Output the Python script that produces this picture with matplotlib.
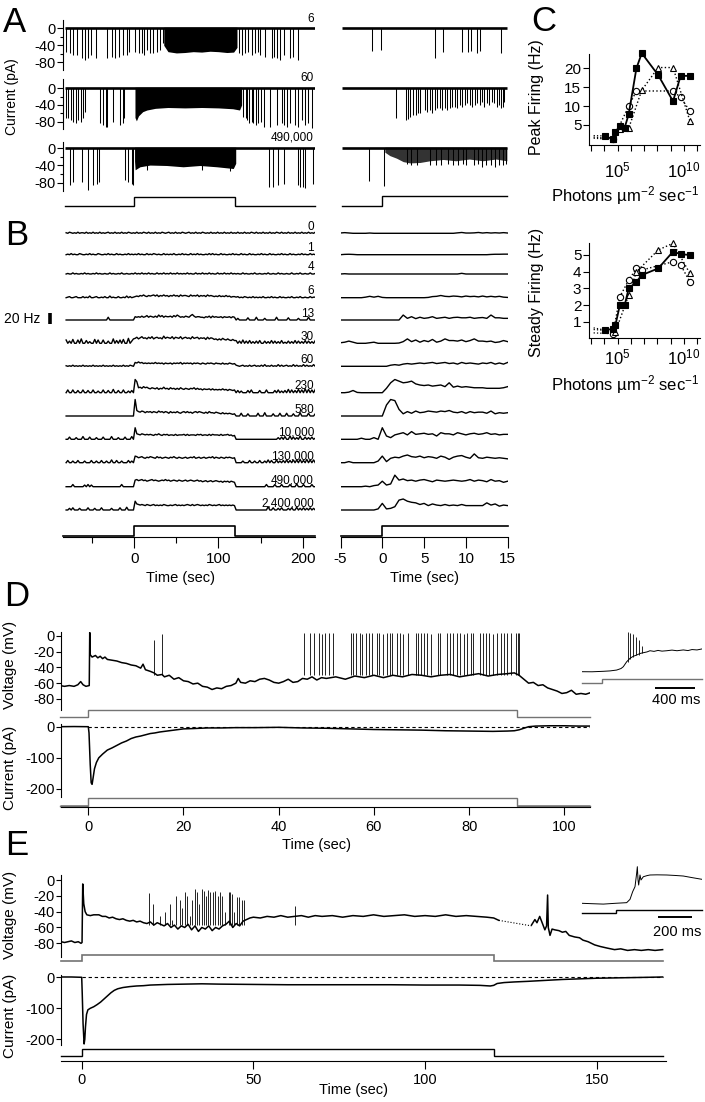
import numpy as np
import matplotlib
matplotlib.use('Agg')
import matplotlib.pyplot as plt
from matplotlib.ticker import NullLocator

plt.rcParams['font.family'] = ['Liberation Sans', 'DejaVu Sans']
plt.rcParams['mathtext.fontset'] = 'custom'
plt.rcParams['mathtext.rm'] = 'Liberation Sans'
plt.rcParams['mathtext.it'] = 'Liberation Sans:italic'
plt.rcParams['mathtext.bf'] = 'Liberation Sans:bold'
plt.rcParams['axes.linewidth'] = 0.8
plt.rcParams['axes.unicode_minus'] = False
for k in ['xtick.major.width', 'ytick.major.width', 'xtick.minor.width', 'ytick.minor.width']:
    plt.rcParams[k] = 0.8

# ======================= DATA =======================
LIGHT_ON, LIGHT_OFF = 0.0, 120.0
A_T_LEFT = (-82.8, 214.6)
A_T_RIGHT = (-4.85, 14.9)
A_LABELS = ['6', '60', '490,000']

# --- A, row "6"
A1_spk_t = [-81.2, -76.4, -73.2, -67.7, -62.5, -58.6, -54.6, -51.9, -45.5, -32.9, -26.5, -23.0, -17.8,
            -13.9, -8.3, -5.9, 0.5, 5.9, 8.7, 11.9, 14.6, 18.6, 21.8, 26.5, 30.5, 34.4,
            124.7, 127.5, 131.4, 135.4, 139.4, 143.3, 147.3, 149.2, 155.2, 163.1, 165.9, 169.8, 173.0,
            177.8, 184.9, 188.8, 194.8]
A1_spk_d = [-55, -59, -63, -63, -71, -75, -71, -63, -71, -71, -67, -71, -67, -63, -63, -55,
            -55, -59, -59, -63, -51, -59, -59, -55, -51, -35,
            -59, -63, -59, -55, -63, -59, -55, -63, -67, -71, -67, -71, -75, -63, -71, -67, -75]
A1_dense_t = [35, 40, 50, 60, 70, 80, 90, 100, 110, 118, 122]
A1_dense_lo = [-40, -55, -58, -57, -55, -56, -54, -55, -57, -56, -45]
# --- A, row "60"
A2_spk_t = [-81.2, -78.4, -75.2, -72.4, -69.3, -66.5, -63.7, -60.6, -58.6, -40.8, -37.6, -33.7, -32.1,
            -25.0, -17.0, -13.9, -12.3,
            129.5, 132.6, 134.2, 136.6, 139.4, 141.3, 144.5, 147.3, 150.0, 154.0, 161.1, 169.0, 175.0,
            177.8, 180.9, 184.9, 190.8, 194.8, 198.7, 202.7, 206.7, 210.6]
A2_spk_d = [-72, -72, -76, -80, -84, -76, -80, -72, -56, -84, -88, -92, -92, -80, -88, -84, -72,
            -68, -72, -76, -84, -80, -84, -88, -84, -80, -92, -92, -88, -84, -88, -92, -84, -88, -92,
            -76, -88, -84, -96]
A2_dense_t = [0.8, 2.5, 5, 10, 15, 25, 40, 60, 80, 100, 117, 125, 127.5]
A2_dense_lo = [-70, -78, -66, -56, -52, -48, -46, -47, -46, -47, -49, -52, -40]
# --- A, row "490,000"
A3_spk_t = [-76.4, -73.2, -62.5, -54.6, -48.7, -44.7, -41.6, -11.1, -7.1, -3.2, -1.2,
            14.6, 80.0, 113.6,
            160.3, 165.1, 171.0, 177.8, 194.0, 196.8, 200.7, 202.7, 212.6]
A3_spk_d = [-85, -78, -78, -97, -85, -82, -78, -74, -78, -82, -85,
            -50, -50, -52,
            -89, -89, -85, -82, -85, -89, -89, -93, -82]
A3_dense_t = [0.3, 1, 6.7, 18.6, 38.4, 58, 78, 98, 117.6, 120.5]
A3_dense_lo = [-30, -50, -43, -39, -40, -43, -40, -43, -47, -35]
# --- A, right (zoomed) rows
AR1_spk_t = [-1.19, -0.2, 6.27, 7.26, 9.56, 10.24, 10.56, 11.35, 11.71, 14.2]
AR1_spk_d = [-54, -52, -70, -56, -56, -56, -54, -58, -54, -58]
AR2_spk_t = [1.63, 2.82, 3.10, 3.37, 3.69, 4.01, 4.29, 4.56, 5.08, 5.36, 5.67, 5.99, 6.27, 6.55, 6.87,
             7.18, 7.46, 7.74, 8.06, 8.37, 8.65, 8.93, 9.25, 9.56, 9.84, 10.12, 10.44, 10.75, 11.03,
             11.35, 11.63, 11.94, 12.22, 12.50, 12.82, 13.13, 13.41, 13.69, 14.01, 14.21, 14.40, 14.60]
AR2_spk_d = [-72, -76, -74, -68, -64, -64, -60, -60, -52, -56, -52, -60, -52, -48, -48, -52, -48, -52,
             -48, -44, -44, -48, -40, -44, -40, -36, -40, -44, -40, -36, -40, -32, -44, -36, -40, -32,
             -36, -44, -40, -48, -44, -32]
AR3_spk_t = [-1.55, 0.2, 2.98, 3.49, 4.17, 5.67, 6.39, 7.06, 7.86, 8.45, 9.05, 9.64, 10.04, 10.91,
             11.43, 11.94, 12.42, 13.02, 13.53, 14.01, 14.40, 14.80]
AR3_spk_d = [-75, -87, -36, -39, -38, -39, -40, -39, -36, -38, -40, -36, -40, -39, -36, -44, -39, -40,
             -44, -39, -40, -36]
AR3_dense_t = [0.3, 0.9, 1.7, 2.5, 3.3, 4.5, 5.7, 7.3, 8.8, 10.4, 12.0, 13.6, 14.9]
AR3_dense_lo = [-9, -17, -23, -31, -34, -33, -29, -26, -29, -25, -29, -25, -29]

# --- B: firing rate (Hz), base-36 digits per 2-s bin starting at -82 s (pre | light | post)
B_LABELS = ['0', '1', '4', '6', '13', '30', '60', '230', '580', '10,000', '130,000', '490,000', '2,400,000']
B_BIN0, B_BIN = -82.0, 2.0
B_LEFT = [
    ("1021010201 1020102010 2010120102 0102010210 1",
     "0201021020 1020102101 2010201021 0120102010 2101020102 0102010201",
     "0201020102 1020102010 2010210201 0201020102 01020102"),
    ("0102010021 0010201002 1001020100 2010010201 0",
     "1020100201 0210100201 0102001020 1002010201 0010202010 0201001020",
     "1002010020 1001020100 2010010201 0020100102 01002010"),
    ("0100201001 0201001020 1001002010 0102001001 0",
     "2010201020 1002010201 0201020101 0201002010 2010201002 0102010201",
     "0100201001 0200100102 0010020100 1002001020 01002001"),
    ("0120012000 2010300120 0102003010 0200103020 1",
     "2324353243 4535243534 2435342534 4325343524 3425343232 4232423122",
     "1201021010 2010102001 0201002010 0102001020 01002011"),
    ("0000000000 0000000000 0000050000 0000000000 0",
     "6565756857 6575968576 6758697565 7658a75665 5465747565 5646556465",
     "0300000400 0050000300 0000500000 0400000300 00050000"),
    ("6040700608 0050300706 0060040080 5060700904 8",
     "9b8ac9a8b9 c8ab9a8d9b a9c8ba9c8a b9a8c9ab8a 9a7b8a9786 8697686575",
     "5040604050 3040500403 0504030502 0403050403 05040305"),
    ("1010201010 2010102010 1020101020 1010201021 0",
     "7686756565 6575656465 5646565746 5656465654 6546565465 5464546545",
     "2101201020 1201020301 0201030201 2010302010 30201030"),
    ("0500500400 5004005003 0050040060 0400500304 0",
     "ok9a8b9a87 9879687a78 6978686976 8768796867 5766757565 6575646545",
     "0403000405 0000400050 0004050304 0605040605 07060506"),
    ("0000000000 0000000000 0000000000 0000000000 0",
     "ua87986878 6876978687 5867686578 6867578687 6575866576 5464545434",
     "0005000400 0005000600 0040005000 5000400060 00050004"),
    ("0040003000 5000400030 0040000500 0300040005 0",
     "la98a98989 8798a87989 7887978889 7978887989 7887979888 7978897867",
     "0000000000 0000000000 0000030405 0060403060 04030402"),
    ("0400300400 0300040030 0400300500 4003000403 0",
     "cb9ab98a9b a98b9a89a9 8a9b98a989 a89a9b89a8 9a89a9b8a9 8a98a9a989",
     "0000300040 0300400305 0400503040 5040505060 40605050"),
    ("0000400000 0304030000 0000000000 0004000000 0",
     "cdbcdbcabc dbcbabcbdb cabcbacbab cabcbabcab 9ab9ab9aba 9a8a9a8a98",
     "0000000000 0000000040 0004000400 0040005000 40000400"),
    ("0030400030 0004000300 0400000300 0040005000 0",
     "gba9a98a98 9a89898a98 8989a89898 9a98a89a98 9898a98989 a898989898",
     "0000000000 0000000006 0040030400 0304005030 40304030"),
]
# B right: 0.5-s bins from -5 to 15 s (Hz)
B_R_T0, B_R_DT = -5.0, 0.5
B_RIGHT = [
    [0.6, 1.2, 0.6, 0, 0, 0, 0, 0.5, 0, 0, 0, 0, 0, 0, 0, 0, 0, 0, 0, 0, 0, 0, 0, 0, 0, 0, 0, 0, 0.8, 1.5,
     0.5, 0.5, 0.8, 1.5, 0.5, 1.2, 0.5, 1.0, 0.5, 1.2, 0.5],
    [0, 0.6, 0.8, 0.5, 0, 0, 0, 0, 0, 0, 0, 0, 0, 0, 0, 0, 0, 0, 0, 0, 0, 0, 0, 0, 0, 0, 0, 0, 0, 0, 0, 0,
     0, 0, 0, 0, 0.5, 0.8, 0.8, 1.0, 1.0],
    [0, 0.5, 0, 0, 0, 0, 0, 0, 0, 0, 0, 0, 0, 0, 0, 0, 0, 0, 0, 0, 0, 0, 0, 0, 0, 0, 0, 0, 0, 1.2, 0, 0,
     0, 0, 0, 0, 0, 0, 0, 0, 0],
    [0, 0, 0, 0, 0, 0, 1, 2.5, 1, 2.5, 0.5, 0, 0, 0, 0, 0, 0, 0, 0, 0, 0, 0.5, 2, 2.5, 4, 2.5, 2, 3, 2.5,
     1.5, 3, 2, 2.5, 1.5, 3, 1.5, 2.5, 1.5, 2.5, 1, 0.5],
    [0, 0, 0, 0, 0, 0, 0, 0, 0, 0, 0, 0, 0, 0, 0, 9, 3, 6, 2.5, 5, 3, 4, 6, 3, 4, 5, 3, 4.5, 5, 4, 4, 5,
     3, 4, 4.5, 3, 9, 4, 4, 3, 3],
    [1, 2, 4, 2, 0, 0, 0, 1, 2, 0, 0, 0, 0, 0, 0.5, 3, 8, 3, 6, 2, 5, 3, 7, 2, 4, 8, 5, 5, 4, 6, 3, 5, 8,
     4, 4, 3, 4, 1.5, 2.5, 5, 3],
    [0, 0, 0, 0, 0, 0, 0, 0, 0, 0, 0, 0, 2, 3, 2, 4, 5, 4, 5, 6, 5, 6, 7, 5, 6, 7, 5, 6, 4, 7, 5, 6, 5,
     4, 6, 5, 7, 4, 6, 4, 7],
    [0, 0, 1, 4, 0.5, 0, 0, 0, 0, 0, 0, 8, 18, 24, 21, 18, 19, 21, 16, 14, 13, 14, 12, 13, 14, 11, 18, 10,
     12, 10, 11, 10, 9, 9, 9, 8, 8, 8, 8, 9, 11],
    [0, 0, 0, 0, 0, 0, 0, 0, 0, 0, 0, 20, 30, 28, 12, 4, 8, 5, 9, 6, 7, 9, 8, 7, 9, 8, 10, 7, 6, 8, 5, 8,
     6, 7, 7, 5, 9, 4, 6, 5, 6],
    [0, 0, 0, 0, 0, 2, 0, 0, 3, 0, 21, 6, 3, 8, 10, 12, 8, 14, 9, 10, 11, 9, 10, 6, 12, 10, 10, 8, 12, 10,
     8, 10, 11, 9, 10, 12, 9, 10, 8, 9, 9],
    [0, 0, 2, 0, 0, 0, 0, 0, 0, 3, 12, 2, 8, 10, 9, 12, 14, 11, 10, 12, 9, 11, 10, 8, 12, 10, 6, 10, 12,
     13, 10, 8, 16, 9, 8, 10, 9, 8, 9, 8, 7],
    [0, 0, 0, 0, 0, 0, 1, 0, 2, 3, 10, 3, 5, 21, 12, 14, 11, 12, 10, 12, 13, 11, 9, 12, 11, 10, 11, 12,
     11, 10, 11, 13, 10, 12, 11, 9, 13, 10, 11, 8, 10],
    [0, 0, 0, 0, 0, 0, 0, 0, 0, 2, 12, 2, 3, 6, 18, 20, 16, 14, 13, 10, 12, 8, 11, 9, 8, 10, 8, 9, 8, 10,
     8, 8, 8, 8, 8, 13, 9, 11, 7, 9, 8],
]
B_SCALE_HZ = 20

# --- C: response vs. intensity
C_UNIT_TO_PHOTONS = 1.15e4
C_DARK_PHOTONS = 1.6e3
C_INT_SQ = [1, 4, 6, 13, 30, 60, 230, 580, 1e4, 1.3e5, 4.9e5, 2.4e6]
C_PEAK_SQ = [2.1, 1.2, 3.2, 4.7, 4.3, 7.8, 20.0, 24.0, 18.2, 11.3, 18.0, 18.0]
C_INT_CI_PEAK = [4, 60, 230, 1.3e5, 4.9e5, 2.4e6]
C_PEAK_CI = [1.2, 10.0, 14.0, 14.0, 12.3, 8.7]
C_INT_TR_PEAK = [4, 13, 60, 580, 1e4, 1.3e5, 2.4e6]
C_PEAK_TR = [1.4, 4.0, 4.1, 14.2, 20.2, 20.2, 6.1]
C_PEAK_DARK = [2.2, 1.5, 1.8]
C_STEADY_SQ = [0.5, 0.6, 0.8, 2.0, 2.0, 3.0, 3.4, 3.8, 4.2, 5.2, 5.05, 5.0]
C_INT_CI_ST = [4, 13, 60, 230, 580, 1.3e5, 4.9e5, 2.4e6]
C_STEADY_CI = [0.3, 2.5, 3.5, 4.2, 4.1, 4.6, 4.4, 3.4]
C_INT_TR_ST = [6, 60, 230, 1e4, 1.3e5, 2.4e6]
C_STEADY_TR = [0.4, 2.6, 4.0, 5.3, 5.7, 3.9]
C_STEADY_DARK = [0.55, 0.35, 0.65]

# --- D: whole-cell recording, 90 s light step
D_LIGHT = (0.0, 90.0)
D_T_RANGE = (-6.0, 105.5)
D_V_t = [-6, -5, -4, -3, -2.2, -1.6, -1.1, -0.5, 0.2, 0.3, 0.4, 0.8, 1.5, 2, 2.5, 3, 3.5, 4, 5, 6, 7, 8,
         9, 10, 11, 11.5, 12, 13, 13.8, 14.5, 15.5, 16, 17, 18, 19, 20, 21, 22, 23, 24, 25, 26, 27, 28,
         29, 30, 31, 31.5, 32, 33, 34, 35, 36, 37, 38, 39, 40, 41, 42, 43, 44, 45, 46, 47, 48, 49, 50,
         52, 54, 56, 58, 60, 62, 64, 66, 68, 70, 72, 74, 76, 78, 80, 82, 84, 86, 88, 89.5, 90.5, 91.5,
         92.5, 93.5, 94.5, 95.5, 96.5, 97.5, 98.5, 99.5, 100.5, 101.5, 102.5, 103.5, 104.5, 105.5]
D_V_v = [-63, -64, -63, -64, -62, -58, -62, -64, -63, 4, -24, -27, -25, -28, -26, -29, -27, -30, -31,
         -32, -34, -35, -37, -38, -41, -36, -43, -45, -47, -50, -49, -52, -50, -55, -53, -57, -58, -61,
         -60, -64, -65, -68, -66, -67, -64, -63, -60, -54, -59, -60, -57, -58, -55, -54, -56, -59, -60,
         -58, -55, -59, -58, -54, -55, -52, -56, -53, -54, -52, -55, -51, -53, -50, -53, -50, -52, -49,
         -50, -52, -50, -49, -52, -50, -48, -51, -49, -48, -47, -50, -55, -60, -59, -63, -62, -66, -68,
         -70, -73, -72, -69, -74, -73, -74, -72]
D_spk_t = [13.8, 15.5,
           45.3, 46.6, 47.5, 48.5, 49.0, 49.8, 50.6, 51.5,
           55.1, 55.7, 56.2,
           57.1, 57.6, 58.3, 59.0, 59.7, 60.6, 61.1, 62.0, 62.7, 63.4,
           63.9, 64.8, 65.5, 66.2, 67.2, 68.8, 69.3, 69.9, 70.5, 71.1,
           72.1, 73.5, 73.9, 75.3, 76.0, 76.7, 77.4, 78.1, 78.9, 79.6,
           80.3, 80.9, 82.3, 82.9, 83.5, 84.2, 85.1, 85.9, 86.8, 87.3,
           87.9, 88.7, 89.8, 90.2, 90.5]
D_spk_p = [-5, 2,
           3, 3, 4, 3, 2, 4, 3, 3,
           3, 4, 3,
           3, 2, 3, 4, 3, 3, 3, 2, 3, 4,
           3, 3, 3, 2, 3, 3, 4, 3, 3, 3,
           2, 3, 3, 4, 3, 3, 3, 3, 2, 3,
           3, 4, 3, 3, 3, 3, 2, 3, 3, 3,
           4, 3, 3, 3, 3]
D_SPIKE_FOOT = -50
D_I_t = [-6, -3, 0, 0.15, 0.4, 0.6, 0.8, 1.0, 1.3, 1.7, 2.2, 3, 4, 5, 6, 7, 8, 9, 10, 11, 12, 13, 14, 15,
         16, 17, 18, 19, 20, 22, 25, 28, 31, 35, 40, 45, 50, 55, 60, 65, 70, 75, 80, 85, 88, 89.5, 90.5,
         91.5, 92.5, 94, 97, 100, 103, 105.5]
D_I_v = [0, 0.5, 0, -20, -120, -180, -185, -165, -135, -115, -100, -88, -75, -68, -60, -52, -46, -38,
         -33, -30, -26, -22, -20, -17, -15, -13, -11, -9, -7, -6, -4, -4, -3, -3, -2, -4, -5, -7, -9,
         -10, -11, -13, -14, -15, -14, -13, -10, -5, 0, 2, 3, 3, 2, 2]
D_INSET_t = [0, 100, 213, 280, 347, 390, 413, 447, 480, 513, 547, 580, 613, 650, 680, 720, 760, 800, 847,
             900, 950, 1013, 1060, 1100, 1150, 1197]
D_INSET_v = [-45.5, -45.6, -45, -44.5, -43.4, -41.5, -39.2, -32.9, -28.6, -26, -24.4, -22.5, -21.5,
             -20.5, -19, -19.8, -18.6, -19.5, -19, -18.2, -19, -18, -18.8, -17.5, -18, -16.8]
D_INSET_spk_t = [457, 480, 507, 537, 567, 600]
D_INSET_spk_p = [5, 4, 2, -2, -6, -13]
D_INSET_spk_f = [-33, -29, -27, -25, -24, -22]
D_INSET_STEP = 203
D_INSET_END = 1197
D_BAR_MS = 400

# --- E: whole-cell recording, 120 s light step
E_LIGHT = (0.0, 120.0)
E_T_RANGE = (-6.0, 169.2)
E_V_t = [-6, -5, -4, -3, -2, -1, -0.2, 0.1, 0.3, 0.6, 1.0, 1.5, 2.5, 3.5, 5, 6, 7, 8, 9, 10, 11, 12, 13,
         14, 15, 16, 17, 18, 19, 20, 21, 22, 23, 24, 25, 26, 27, 28, 29, 30, 31, 32, 33, 34, 35, 36, 37,
         38, 39, 40, 41, 42, 43, 44, 45, 46, 47, 48, 49, 50, 52, 54, 56, 58, 60, 62, 64, 66, 68, 70, 73,
         76, 79, 82, 85, 88, 91, 94, 97, 100, 103, 106, 109, 112, 115, 118, 120, 121.5]
E_V_v = [-78, -79, -78, -77, -79, -78, -80, -79, -5, -30, -40, -44, -45, -44, -44, -46, -46, -48, -47,
         -49, -50, -49, -51, -52, -51, -53, -52, -54, -55, -53, -57, -54, -56, -58, -55, -60, -57, -62,
         -58, -60, -56, -63, -58, -65, -60, -62, -58, -64, -60, -62, -58, -56, -52, -60, -55, -58, -52,
         -50, -48, -47, -48, -46, -47, -45, -47, -46, -45, -47, -45, -46, -45, -47, -45, -46, -44, -46,
         -45, -44, -46, -45, -46, -44, -46, -45, -46, -47, -48, -51]
E_GAP_t = [121.5, 131.0]
E_GAP_v = [-51, -58]
E_V2_t = [131, 132, 132.6, 133.4, 134.2, 134.9, 135.4, 135.7, 135.9, 136.4, 137, 137.8, 139, 140, 141,
          142, 143.6, 145, 146, 147.5, 149.4, 151, 153, 155.2, 157, 159, 161, 163, 165, 167, 169.2]
E_V2_v = [-57, -50, -54, -46, -55, -63, -58, -19, -60, -70, -62, -63, -64, -66, -65, -70, -72, -73, -76,
          -78, -82, -84, -86, -88, -87, -89, -88, -89, -88, -89, -88]
E_spk_t = [19.5, 20.9, 22.7, 24.4, 25.6, 26.3, 27.6, 28.5, 29.3, 30.0, 30.6, 31.4, 32.2, 32.9, 33.5,
           34.3, 34.9, 35.5, 36.2, 36.8, 37.4, 38.2, 38.9, 39.6, 40.3, 40.9, 41.6, 42.8, 43.3, 43.8,
           44.5, 45.2, 45.9, 46.7, 47.4, 62.0]
E_spk_p = [-17, -30, -45, -40, -30, -50, -20, -25, -35, -15, -20, -45, -25, -12, -15, -30, -12, -14,
           -20, -13, -15, -15, -14, -20, -15, -20, -40, -15, -15, -18, -40, -22, -22, -25, -25, -33]
E_SPIKE_FOOT = -57
E_I_t = [-6, -3, 0, 0.15, 0.4, 0.7, 0.9, 1.1, 1.4, 1.8, 2.5, 3.5, 4.5, 5.5, 6.5, 7.5, 8.5, 9.5, 10.5, 12,
         14, 16, 18, 20, 25, 30, 35, 40, 50, 60, 70, 80, 90, 100, 110, 116, 119, 120, 121, 123, 126,
         130, 135, 140, 145, 150, 155, 160, 165, 169.2]
E_I_v = [1, 1, 0, -50, -150, -215, -200, -160, -120, -105, -100, -95, -88, -80, -70, -60, -50, -42, -37,
         -33, -30, -28, -27, -25, -23, -22, -21, -22, -23, -24, -24, -24, -24, -25, -25, -26, -28, -26,
         -20, -17, -15, -13, -10, -7, -5, -3, -2, -1, 0, 1]
E_INSET_t = [0, 60, 128, 200, 268, 288, 304, 318, 328, 332, 336, 340, 348, 354, 368, 390, 408, 450, 508,
             560, 608, 660, 718]
E_INSET_v = [-80, -80.5, -81, -80, -79.2, -75, -65.3, -59, -42, -33.7, -50, -56.9, -44.2, -50.5, -46.4,
             -45, -44.2, -44, -44.2, -44.8, -45.5, -47.5, -49.6]
E_INSET_STEP = 202
E_INSET_END = 718
E_BAR_MS = 200

# ======================= LAYOUT HELPERS =======================
W, H = 705, 1102
fig = plt.figure(figsize=(W / 100, H / 100), dpi=100)


def lin(p, pa, va, pb, vb):
    return va + (p - pa) * (vb - va) / (pb - pa)


def px_axes(l, t, r, b, xmap, ymap, xlog=False):
    ax = fig.add_axes([l / W, 1 - b / H, (r - l) / W, (b - t) / H])
    x0, x1 = lin(l, *xmap), lin(r, *xmap)
    if xlog:
        ax.set_xscale('log')
        ax.set_xlim(10 ** x0, 10 ** x1)
    else:
        ax.set_xlim(x0, x1)
    ax.set_ylim(lin(b, *ymap), lin(t, *ymap))
    ax.patch.set_visible(False)
    return ax


def bare(ax):
    for s in ax.spines.values():
        s.set_visible(False)
    ax.set_xticks([])
    ax.set_yticks([])


def left_only(ax, ticks, fs=10.5, minor=None, length=4.0, pad=1.5):
    for k in ('top', 'right', 'bottom'):
        ax.spines[k].set_visible(False)
    ax.set_xticks([])
    ax.set_yticks(ticks)
    ax.set_yticklabels([str(v) for v in ticks])
    ax.tick_params(axis='y', direction='out', length=length, pad=pad, labelsize=fs)
    if minor:
        ax.set_yticks(minor, minor=True)
        ax.tick_params(axis='y', which='minor', direction='out', length=2.5)


def set_xt(ax, ticks):
    ax.set_xticks(ticks)
    ax.set_xticklabels([str(v) for v in ticks])


def ftext(x, y, s, **kw):
    return fig.text(x / W, 1 - y / H, s, **kw)


def stim_xy(t0, t1, on, off, lo=0.0, hi=1.0):
    xs, ys = [t0, on, on], [lo, lo, hi]
    if off < t1:
        xs += [off, off, t1]
        ys += [hi, lo, lo]
    else:
        xs += [t1]
        ys += [hi]
    return xs, ys


def stim(ax, t0, t1, on, off, color='k', lw=0.9, low_lw=None):
    xs, ys = stim_xy(t0, t1, on, off)
    ax.plot(xs, ys, color=color, lw=lw, solid_joinstyle='miter', clip_on=False)
    if low_lw:
        ax.plot([t0, on], [0, 0], color=color, lw=low_lw, solid_capstyle='butt', clip_on=False)
        if off < t1:
            ax.plot([off, t1], [0, 0], color=color, lw=low_lw, solid_capstyle='butt', clip_on=False)


def dec(s):
    return np.array([int(c, 36) for c in s.replace(' ', '')], float)


# ======================= PANEL A =======================
XA_L = (134.3, 0.0, 235.3, 120.0)
XA_R = (382.3, 0.0, 507.7, 15.0)
A_ROWS = [((20, 70), (28.3, 0, 62.3, -80)),
          ((79, 129), (88.3, 0, 121.7, -80)),
          ((142, 191), (148.3, 0, 182.7, -80))]
A_LEFT_DATA = [(A1_spk_t, A1_spk_d, A1_dense_t, A1_dense_lo),
               (A2_spk_t, A2_spk_d, A2_dense_t, A2_dense_lo),
               (A3_spk_t, A3_spk_d, A3_dense_t, A3_dense_lo)]
A_RIGHT_DATA = [(AR1_spk_t, AR1_spk_d, None, None),
                (AR2_spk_t, AR2_spk_d, None, None),
                (AR3_spk_t, AR3_spk_d, AR3_dense_t, AR3_dense_lo)]
A_LABEL_Y = [19, 78, 137]


def draw_current_row(ax, trange, st, sd, dt, dlo, fill_color='k'):
    ax.plot(list(trange), [0, 0], color='k', lw=1.9, solid_capstyle='butt')
    ax.vlines(st, sd, 0, color='k', lw=0.75)
    if dt is not None:
        ax.fill_between(dt, dlo, 2.5, color=fill_color, lw=0)


for (ytb, ymap), dl, dr, ly, lab in zip(A_ROWS, A_LEFT_DATA, A_RIGHT_DATA, A_LABEL_Y, A_LABELS):
    axl = px_axes(63, ytb[0], 315, ytb[1], XA_L, ymap)
    left_only(axl, [0, -40, -80], fs=10.5, minor=[-20, -60])
    draw_current_row(axl, A_T_LEFT, *dl)
    axr = px_axes(340.5, ytb[0], 507.7, ytb[1], XA_R, ymap)
    bare(axr)
    draw_current_row(axr, A_T_RIGHT, *dr, fill_color='0.2')
    ftext(314, ly, lab, ha='right', va='center', fontsize=8.5)

ax = px_axes(63, 190, 315, 210, XA_L, (206, 0, 196.7, 1))
bare(ax)
stim(ax, A_T_LEFT[0], A_T_LEFT[1], LIGHT_ON, LIGHT_OFF, lw=1.0)
ax = px_axes(340.5, 190, 507.7, 210, XA_R, (206, 0, 196.2, 1))
bare(ax)
stim(ax, A_T_RIGHT[0], A_T_RIGHT[1], LIGHT_ON, LIGHT_OFF, lw=1.0)
ftext(12, 97, 'Current (pA)', rotation=90, ha='center', va='center', fontsize=10)

# ======================= PANEL B =======================
B_ROW_Y = [233.3, 254.7, 274, 297.7, 320, 343.3, 366.3, 392.7, 416, 439.3, 462.7, 486.7, 510]
YB = (537, 0.0, 482, 100.0)   # 0.55 px per Hz
axBL = px_axes(63, 222, 315, 537, XA_L, YB)
axBR = px_axes(340.5, 222, 507.7, 537, XA_R, YB)
for ax in (axBL, axBR):
    for k in ('top', 'right', 'left'):
        ax.spines[k].set_visible(False)
    ax.set_yticks([])
    ax.tick_params(axis='x', direction='out', length=8, pad=3, labelsize=11)
set_xt(axBL, [0, 100, 200])
axBL.set_xticks([-50, 50, 150], minor=True)
axBL.tick_params(axis='x', which='minor', direction='out', length=4)
set_xt(axBR, [-5, 0, 5, 10, 15])
axBR.xaxis.set_minor_locator(NullLocator())

for yrow, rowstr, rrow, lab in zip(B_ROW_Y, B_LEFT, B_RIGHT, B_LABELS):
    off = lin(yrow, *YB)
    v = dec(''.join(rowstr))
    t = B_BIN0 + B_BIN * np.arange(len(v)) + B_BIN / 2
    axBL.plot(t, v + off, color='k', lw=1.0)
    rv = np.array(rrow, float)
    rt = B_R_T0 + B_R_DT * np.arange(len(rv))
    axBR.plot(rt, rv + off, color='k', lw=1.0)
    ftext(314, yrow - 6.5, lab, ha='right', va='center', fontsize=8.5)

# stimulus in B (low level sits on the axis line)
sl, sh = lin(535.6, *YB), lin(526, *YB)
for ax, tr in ((axBL, (lin(63, *XA_L), lin(315, *XA_L))), (axBR, (lin(340.5, *XA_R), lin(507.7, *XA_R)))):
    xs, ys = stim_xy(tr[0], tr[1], LIGHT_ON, LIGHT_OFF, sl, sh)
    ax.plot(xs, ys, color='k', lw=1.2, clip_on=False)
# 20 Hz scale bar
xb = lin(50, *XA_L)
yb0 = lin(324, *YB)
axBL.plot([xb, xb], [yb0, yb0 + B_SCALE_HZ], color='k', lw=2.6, solid_capstyle='butt', clip_on=False)
ftext(4, 319, '20 Hz', ha='left', va='center', fontsize=10)
ftext(180, 578, 'Time (sec)', ha='center', va='center', fontsize=10.5)
ftext(425, 578, 'Time (sec)', ha='center', va='center', fontsize=10.5)

# ======================= PANEL C =======================
XC = (617.5, 5.0, 684.0, 10.0)


def c_axes(t, b, ymap, yticks, xpad):
    ax = px_axes(589, t, 700, b, XC, ymap, xlog=True)
    for k in ('top', 'right'):
        ax.spines[k].set_visible(False)
    ax.set_xticks([10.0 ** k for k in range(3, 12)])
    ax.set_xticklabels(['$10^{%d}$' % k if k in (5, 10) else '' for k in range(3, 12)])
    ax.xaxis.set_minor_locator(NullLocator())
    ax.tick_params(axis='x', direction='out', length=4, pad=xpad, labelsize=12)
    ax.set_yticks(yticks)
    ax.set_yticklabels([str(v) for v in yticks])
    ax.tick_params(axis='y', direction='out', length=4, pad=1.5, labelsize=11)
    return ax


def c_series(ax, ints, vals, dark, marker, ls, lw, mfc, ms):
    x = [i * C_UNIT_TO_PHOTONS for i in ints]
    ax.plot([C_DARK_PHOTONS, x[0]], [dark, vals[0]], color='k', lw=0.9, ls=':')
    ax.plot(x, vals, color='k', lw=lw, ls=ls, marker=marker, ms=ms, mfc=mfc, mec='k', mew=0.8,
            clip_on=False)


axC1 = c_axes(54, 145, (68.3, 20, 125, 5), [5, 10, 15, 20], 7)
c_series(axC1, C_INT_CI_PEAK, C_PEAK_CI, C_PEAK_DARK[1], 'o', ':', 1.0, 'white', 4.5)
c_series(axC1, C_INT_TR_PEAK, C_PEAK_TR, C_PEAK_DARK[2], '^', ':', 1.0, 'white', 4.5)
c_series(axC1, C_INT_SQ, C_PEAK_SQ, C_PEAK_DARK[0], 's', '-', 1.3, 'k', 4.0)
axC2 = c_axes(243, 338, (255, 5, 322, 1), [1, 2, 3, 4, 5], 3)
c_series(axC2, C_INT_CI_ST, C_STEADY_CI, C_STEADY_DARK[1], 'o', ':', 1.0, 'white', 4.5)
c_series(axC2, C_INT_TR_ST, C_STEADY_TR, C_STEADY_DARK[2], '^', ':', 1.0, 'white', 4.5)
c_series(axC2, C_INT_SQ, C_STEADY_SQ, C_STEADY_DARK[0], 's', '-', 1.3, 'k', 4.0)
ftext(537, 97, 'Peak Firing (Hz)', rotation=90, ha='center', va='center', fontsize=11.5)
ftext(537, 292, 'Steady Firing (Hz)', rotation=90, ha='center', va='center', fontsize=11.5)
ftext(551, 196, 'Photons \u00b5m$^{-2}$ sec$^{-1}$', ha='left', va='center', fontsize=12)
ftext(551, 385, 'Photons \u00b5m$^{-2}$ sec$^{-1}$', ha='left', va='center', fontsize=12)

# ======================= PANEL D =======================
XD = (88.3, 0.0, 564.3, 100.0)
YDV = (635.7, 0.0, 699.0, -80.0)
YDI = (726.7, 0.0, 789.0, -200.0)
axDV = px_axes(61, 631.5, 590, 710, XD, YDV)
left_only(axDV, [0, -20, -40, -60, -80], length=3.5, pad=1)
axDV.plot(D_V_t, D_V_v, color='k', lw=1.1)
axDV.vlines(D_spk_t, D_SPIKE_FOOT, D_spk_p, color='k', lw=0.6)
ax = px_axes(61, 705, 590, 720, XD, (716.7, 0, 710, 1))
bare(ax)
stim(ax, D_T_RANGE[0], D_T_RANGE[1], D_LIGHT[0], D_LIGHT[1], color='0.45', lw=1.0)
axDI = px_axes(61, 724, 590, 797, XD, YDI)
left_only(axDI, [0, -100, -200], length=3.5, pad=1)
axDI.plot([D_LIGHT[0], D_T_RANGE[1]], [0, 0], color='k', lw=0.8, ls=(0, (3, 2.5)))
axDI.plot(D_I_t, D_I_v, color='k', lw=1.1)
axDS = px_axes(61, 796, 590, 807.3, XD, (805.7, 0, 798.3, 1))
for k in ('top', 'right', 'left'):
    axDS.spines[k].set_visible(False)
axDS.set_yticks([])
set_xt(axDS, [0, 20, 40, 60, 80, 100])
axDS.tick_params(axis='x', direction='out', length=6, pad=3, labelsize=10.5)
stim(axDS, D_T_RANGE[0], D_T_RANGE[1], D_LIGHT[0], D_LIGHT[1], color='0.45', lw=1.0, low_lw=1.8)
ftext(317, 845, 'Time (sec)', ha='center', va='center', fontsize=10.5)
ftext(10, 665, 'Voltage (mV)', rotation=90, ha='center', va='center', fontsize=11)
ftext(10, 768, 'Current (pA)', rotation=90, ha='center', va='center', fontsize=11)
# inset D
XDI = (582, 0.0, 592, 100.0)
axDin = px_axes(582, 626, 702, 686, XDI, YDV)
bare(axDin)
axDin.plot(D_INSET_t, D_INSET_v, color='k', lw=0.7)
axDin.vlines(D_INSET_spk_t, D_INSET_spk_f, D_INSET_spk_p, color='k', lw=0.6)
ax = px_axes(582, 676, 702, 692, XDI, (682.7, 0, 679, 1))
bare(ax)
stim(ax, 0, D_INSET_END, D_INSET_STEP, D_INSET_END + 1, color='0.45', lw=1.0)
ybar = lin(687.7, 682.7, 0, 679, 1)
ax.plot([730, 730 + D_BAR_MS], [ybar, ybar], color='k', lw=1.4, solid_capstyle='butt', clip_on=False)
ftext(676, 700, '%d ms' % D_BAR_MS, ha='center', va='center', fontsize=10.5)

# ======================= PANEL E =======================
XE = (81.7, 0.0, 596.7, 150.0)
YEV = (880.0, 0.0, 943.3, -80.0)
YEI = (977.3, 0.0, 1039.3, -200.0)
axEV = px_axes(61, 875, 666, 957, XE, YEV)
left_only(axEV, [0, -20, -40, -60, -80], length=3.5, pad=1)
axEV.plot(E_V_t, E_V_v, color='k', lw=1.1)
axEV.plot(E_GAP_t, E_GAP_v, color='k', lw=0.8, ls=':')
axEV.plot(E_V2_t, E_V2_v, color='k', lw=1.1)
axEV.vlines(E_spk_t, E_SPIKE_FOOT, E_spk_p, color='k', lw=0.6)
ax = px_axes(61, 950, 666, 965, XE, (961, 0, 955, 1))
bare(ax)
stim(ax, E_T_RANGE[0], E_T_RANGE[1], E_LIGHT[0], E_LIGHT[1], color='0.45', lw=1.2)
axEI = px_axes(61, 975, 666, 1045, XE, YEI)
left_only(axEI, [0, -100, -200], length=3.5, pad=1)
axEI.plot([E_LIGHT[0], E_T_RANGE[1]], [0, 0], color='k', lw=0.8, ls=(0, (3, 2.5)))
axEI.plot(E_I_t, E_I_v, color='k', lw=1.1)
axES = px_axes(61, 1046, 666, 1060.7, XE, (1055.7, 0, 1049.3, 1))
for k in ('top', 'right', 'left'):
    axES.spines[k].set_visible(False)
axES.set_yticks([])
set_xt(axES, [0, 50, 100, 150])
axES.tick_params(axis='x', direction='out', length=6, pad=3, labelsize=10.5)
stim(axES, E_T_RANGE[0], E_T_RANGE[1], E_LIGHT[0], E_LIGHT[1], color='k', lw=1.0)
ftext(354, 1090, 'Time (sec)', ha='center', va='center', fontsize=10.5)
ftext(10, 915, 'Voltage (mV)', rotation=90, ha='center', va='center', fontsize=11)
ftext(10, 1016, 'Current (pA)', rotation=90, ha='center', va='center', fontsize=11)
# inset E
XEI = (582, 0.0, 682, 600.0)
axEin = px_axes(582, 860, 702, 908, XEI, (903.3, -80.0, 879.58, -50.0))
bare(axEin)
axEin.plot(E_INSET_t, E_INSET_v, color='k', lw=0.7)
ax = px_axes(582, 905, 702, 921, XEI, (913.3, 0, 910, 1))
bare(ax)
stim(ax, 0, E_INSET_END, E_INSET_STEP, E_INSET_END + 1, color='k', lw=1.0)
ybar = lin(917.3, 913.3, 0, 910, 1)
ax.plot([458, 458 + E_BAR_MS], [ybar, ybar], color='k', lw=1.4, solid_capstyle='butt', clip_on=False)
ftext(676.7, 931.7, '%d ms' % E_BAR_MS, ha='center', va='center', fontsize=10.5)

# ======================= PANEL LETTERS =======================
for x, y, s in ((3, 32, 'A'), (5, 245, 'B'), (531, 31, 'C'), (4, 606, 'D'), (5, 855, 'E')):
    ftext(x, y, s, ha='left', va='baseline', fontsize=25)

fig.savefig('out.png', dpi=100)
